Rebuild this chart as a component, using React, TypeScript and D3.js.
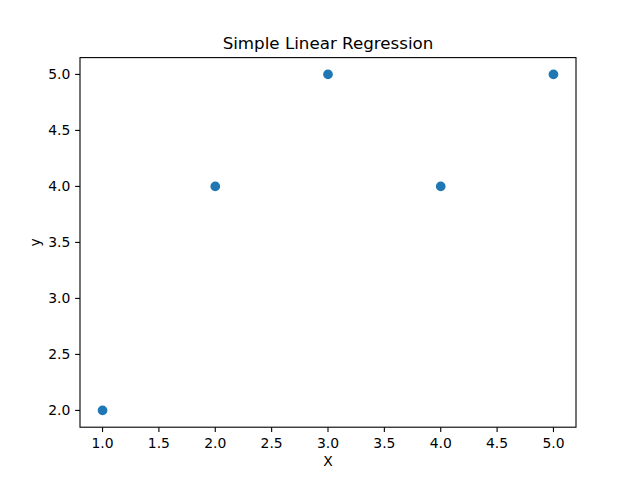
import React from "react";
import * as d3 from "d3";

const xValues = [1, 2, 3, 4, 5];
const yValues = [2, 4, 5, 4, 5];
const xTicks = [1.0, 1.5, 2.0, 2.5, 3.0, 3.5, 4.0, 4.5, 5.0];
const yTicks = [2.0, 2.5, 3.0, 3.5, 4.0, 4.5, 5.0];
const title = "Simple Linear Regression";
const xLabel = "X";
const yLabel = "y";

export default function App() {
  const W = 640, H = 480;
  const left = 80, right = 576, top = 57.6, bottom = 427.2;
  const x = d3.scaleLinear().domain([0.8, 5.2]).range([left, right]);
  const y = d3.scaleLinear().domain([1.85, 5.15]).range([bottom, top]);
  const tick = 4.86;
  const font = "DejaVu Sans, sans-serif";
  return (
    <svg width={W} height={H} style={{ position: "absolute", left: 0, top: 0, background: "#fff" }} fontFamily={font}>
      <rect x={0} y={0} width={W} height={H} fill="#fff" />
      {xValues.map((v, i) => (
        <circle key={i} cx={x(v)} cy={y(yValues[i])} r={4.17} fill="#1f77b4" stroke="#1f77b4" strokeWidth={1.39} />
      ))}
      <rect x={left} y={top} width={right - left} height={bottom - top} fill="none" stroke="#000" strokeWidth={1.1} />
      {xTicks.map((t) => (
        <g key={"x" + t}>
          <line x1={x(t)} x2={x(t)} y1={bottom} y2={bottom + tick} stroke="#000" strokeWidth={1.1} />
          <text x={x(t)} y={bottom + tick + 4.86 + 11} textAnchor="middle" fontSize={13.9} fill="#000">{t.toFixed(1)}</text>
        </g>
      ))}
      {yTicks.map((t) => (
        <g key={"y" + t}>
          <line x1={left - tick} x2={left} y1={y(t)} y2={y(t)} stroke="#000" strokeWidth={1.1} />
          <text x={left - tick - 4.86} y={y(t)} dy="0.35em" textAnchor="end" fontSize={13.9} fill="#000">{t.toFixed(1)}</text>
        </g>
      ))}
      <text x={(left + right) / 2} y={49.3} textAnchor="middle" fontSize={16.7} fill="#000">{title}</text>
      <text x={(left + right) / 2} y={466} textAnchor="middle" fontSize={13.9} fill="#000">{xLabel}</text>
      <text transform={`translate(40, ${(top + bottom) / 2}) rotate(-90)`} textAnchor="middle" fontSize={13.9} fill="#000">{yLabel}</text>
    </svg>
  );
}
